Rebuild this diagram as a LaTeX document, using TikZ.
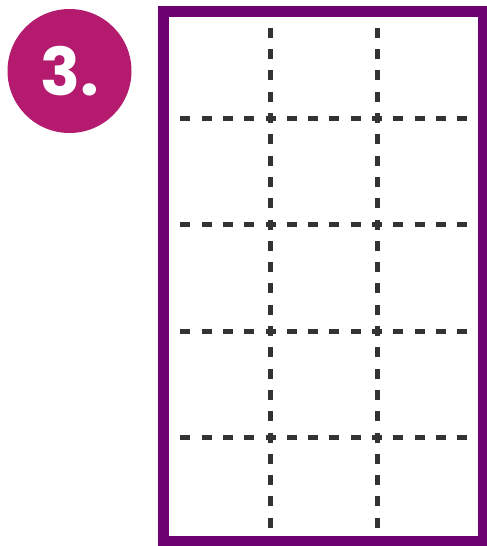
\documentclass[tikz,border=0pt]{standalone}
\usepackage{fontspec}
\setmainfont{Poppins}
\usetikzlibrary{positioning}
\definecolor{Magenta}{HTML}{B41B6F}
\definecolor{Morado}{HTML}{6C0070}
\definecolor{Guia}{HTML}{333333}
\begin{document}
\begin{tikzpicture}[x=1pt,y=-1pt,
    marco/.style={draw=Morado,line width=10.5pt},
    guia/.style={draw=Guia,line width=5pt,dash pattern=on 10pt off 11.3pt},
    numero/.style={circle,fill=Magenta,minimum size=124pt,inner sep=0pt,text=white,font=\fontsize{66}{66}\selectfont\bfseries}]
    \useasboundingbox (0,0) rectangle (487,546);
    \node[numero] (paso) at (69.5,71) {3.};
    \draw[marco] (163.5,11.5) rectangle (483.5,541.5);
    \foreach \y in {118,224.5,331,437.5}
      \draw[guia] (180.3,\y) -- (467.5,\y);
    \foreach \x in {270.5,377}
      \draw[guia] (\x,27.8) -- (\x,528);
  \end{tikzpicture}
\end{document}
